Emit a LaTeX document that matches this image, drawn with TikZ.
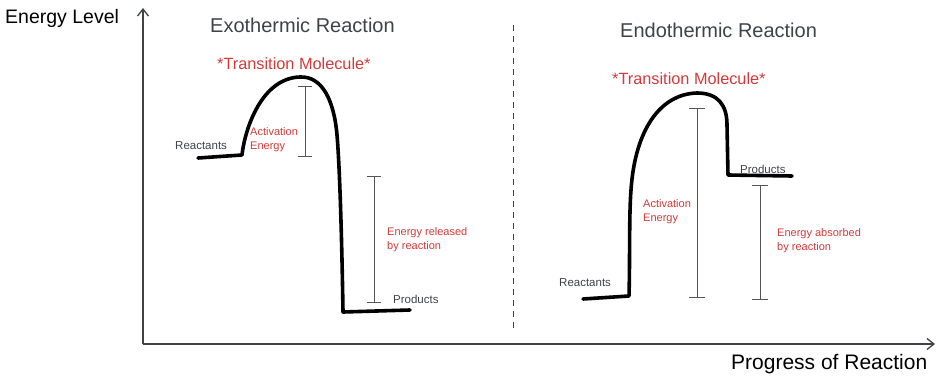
\documentclass[tikz,border=0pt]{standalone}
\usepackage{fontspec}
\setmainfont{Liberation Sans}
\usetikzlibrary{arrows.meta}
\definecolor{inkgray}{HTML}{3F4247}
\definecolor{inkred}{HTML}{D33A3A}
\definecolor{bargray}{HTML}{555555}
\tikzset{
  curve/.style={line width=3.6pt, line cap=round, line join=round, black},
  axis/.style={line width=1.3pt, inkgray, -{Straight Barb[length=7pt,width=11pt,line width=1.3pt]}},
  bar/.style={line width=0.9pt, bargray},
  title/.style={font=\fontsize{20}{22}\selectfont, inkgray, inner sep=0pt, anchor=west},
  axlabel/.style={font=\fontsize{19.5}{22}\selectfont, black, inner sep=0pt, anchor=west},
  xaxlabel/.style={font=\fontsize{21}{23}\selectfont, black, inner sep=0pt, anchor=west},
  trans/.style={font=\fontsize{16.3}{18}\selectfont, inkred, inner sep=0pt, anchor=west},
  lbl/.style={font=\fontsize{11.5}{14}\selectfont, inkgray, inner sep=0pt, anchor=west},
  rlbl/.style={font=\fontsize{11}{14}\selectfont, inkred, inner sep=0pt, anchor=west, align=left},
}
\begin{document}
\begin{tikzpicture}[x=1pt,y=-1pt]
\useasboundingbox (0,0) rectangle (940,383);
% axes
\coordinate (O) at (143,344);
\coordinate (ytip) at (143,8);
\coordinate (xtip) at (935,344);
\draw[axis] (O) -- (ytip);
\draw[axis] (O) -- (xtip);
\node[axlabel] (ylab) at (5,18) {Energy Level};
\node[xaxlabel] (xlab) at (731,364) {Progress of Reaction};
% divider
\coordinate (d1) at (513,25);
\coordinate (d2) at (513,332);
\draw[line width=0.9pt, inkgray, dash pattern=on 6pt off 5pt] (d1) -- (d2);
% titles
\node[title] (exo) at (210,25) {Exothermic Reaction};
\node[title] (endo) at (620,30) {Endothermic Reaction};
\node[trans] (tm1) at (217,64) {*Transition Molecule*};
\node[trans] (tm2) at (612,79) {*Transition Molecule*};
% exothermic curve
\draw[curve] (198,158) -- (242,155)
  .. controls (245,128) and (262,78) .. (300,77)
  .. controls (322,76) and (334,100) .. (337,135)
  .. controls (340,170) and (342,250) .. (343,312)
  -- (410,310);
% endothermic curve
\draw[curve] (583,299) -- (629,296)
  .. controls (630,260) and (629,215) .. (631,190)
  .. controls (635,130) and (660,94) .. (697,93)
  .. controls (718,93) and (727,105) .. (727,125)
  -- (728,175) -- (792,176);
% bars exo
\coordinate (a1t) at (305,86); \coordinate (a1b) at (305,156);
\draw[bar] (a1t) -- (a1b);
\draw[bar] ([xshift=-7pt]a1t) -- ([xshift=7pt]a1t);
\draw[bar] ([xshift=-7pt]a1b) -- ([xshift=7pt]a1b);
\coordinate (r1t) at (374,176); \coordinate (r1b) at (374,302);
\draw[bar] (r1t) -- (r1b);
\draw[bar] ([xshift=-7pt]r1t) -- ([xshift=7pt]r1t);
\draw[bar] ([xshift=-7pt]r1b) -- ([xshift=7pt]r1b);
% bars endo
\coordinate (a2t) at (697,108); \coordinate (a2b) at (697,297);
\draw[bar] (a2t) -- (a2b);
\draw[bar] ([xshift=-8pt]a2t) -- ([xshift=8pt]a2t);
\draw[bar] ([xshift=-8pt]a2b) -- ([xshift=8pt]a2b);
\coordinate (b2t) at (760,185); \coordinate (b2b) at (760,299);
\draw[bar] (b2t) -- (b2b);
\draw[bar] ([xshift=-8pt]b2t) -- ([xshift=8pt]b2t);
\draw[bar] ([xshift=-8pt]b2b) -- ([xshift=8pt]b2b);
% labels exo
\node[lbl] (re1) at (175,146) {Reactants};
\node[rlbl] (ae1) at (250,140) {Activation\\Energy};
\node[rlbl] (er1) at (387,240) {Energy released\\by reaction};
\node[lbl] (pr1) at (393,299) {Products};
% labels endo
\node[lbl] (re2) at (559,283) {Reactants};
\node[rlbl] (ae2) at (643,212) {Activation\\Energy};
\node[rlbl] (ea2) at (777,241) {Energy absorbed\\by reaction};
\node[lbl] (pr2) at (740,169) {Products};
\end{tikzpicture}
\end{document}
